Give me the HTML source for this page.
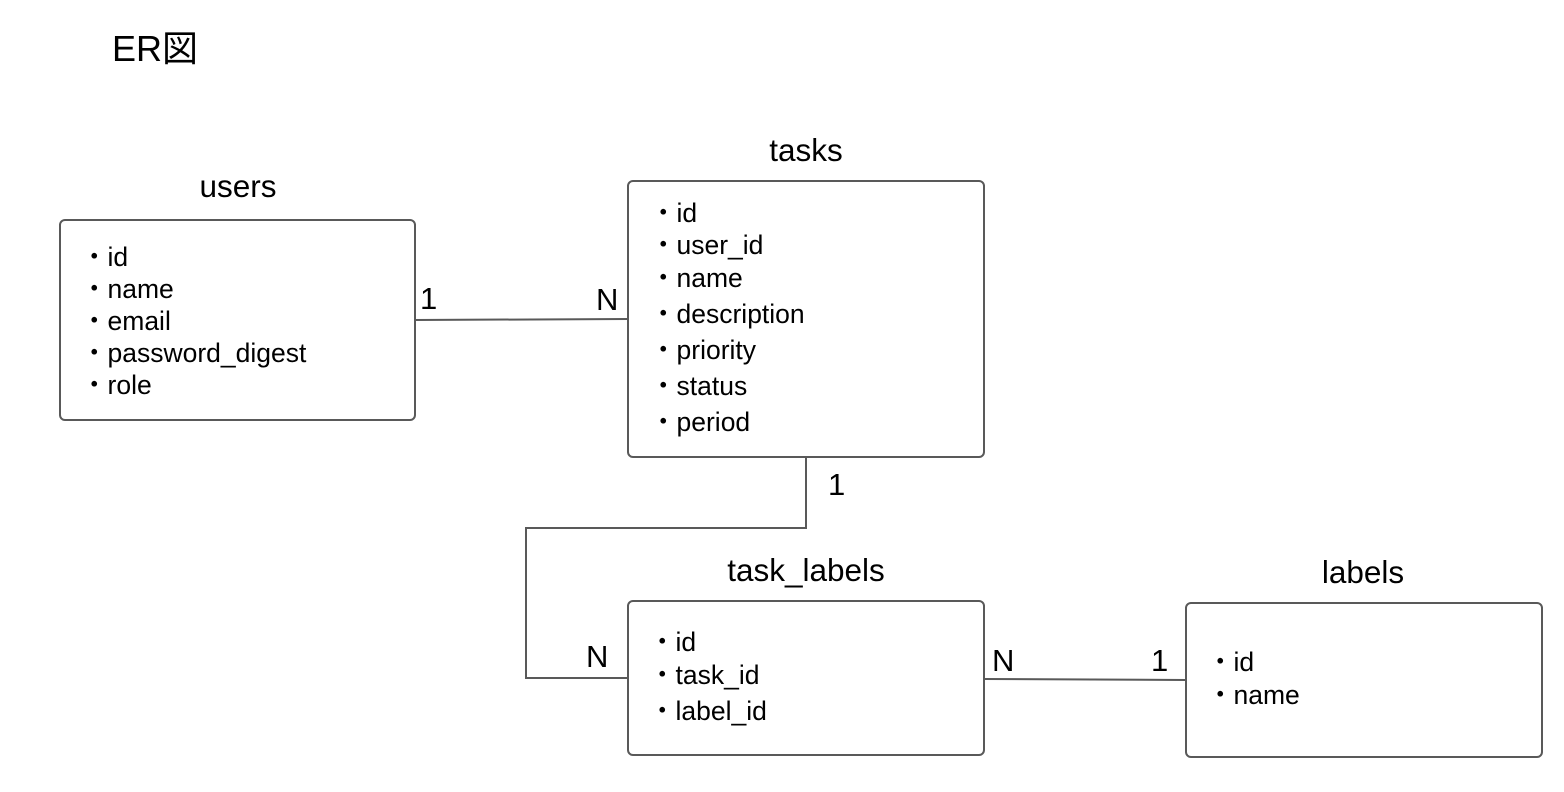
<!DOCTYPE html>
<html><head><meta charset="utf-8"><style>
html,body{margin:0;padding:0;background:#fff;}
svg{display:block;}
text{font-family:"Liberation Sans","Noto Sans CJK JP",sans-serif;fill:#000;}
.t{font-size:31.5px;}
.b{font-size:26.5px;}
.box{fill:#fff;stroke:#595959;stroke-width:2;}
.ln{fill:none;stroke:#595959;stroke-width:2;}
</style></head><body>
<svg width="1564" height="792" viewBox="0 0 1564 792">
<text x="112" y="61" style="font-size:36px">ER図</text>

<text class="t" x="238" y="197" text-anchor="middle">users</text>
<rect class="box" x="60" y="220" width="355" height="200" rx="5"/>
<g class="b">
<text x="81" y="266">・id</text>
<text x="81" y="298">・name</text>
<text x="81" y="330">・email</text>
<text x="81" y="362">・password_digest</text>
<text x="81" y="394">・role</text>
</g>

<text class="t" x="806" y="161" text-anchor="middle">tasks</text>
<rect class="box" x="628" y="181" width="356" height="276" rx="5"/>
<g class="b">
<text x="650" y="222">・id</text>
<text x="650" y="254">・user_id</text>
<text x="650" y="287">・name</text>
<text x="650" y="323">・description</text>
<text x="650" y="359">・priority</text>
<text x="650" y="395">・status</text>
<text x="650" y="431">・period</text>
</g>

<text class="t" x="806" y="581" text-anchor="middle">task_labels</text>
<rect class="box" x="628" y="601" width="356" height="154" rx="5"/>
<g class="b">
<text x="649" y="651">・id</text>
<text x="649" y="684">・task_id</text>
<text x="649" y="720">・label_id</text>
</g>

<text class="t" x="1363" y="583" text-anchor="middle">labels</text>
<rect class="box" x="1186" y="603" width="356" height="154" rx="5"/>
<g class="b">
<text x="1207" y="671">・id</text>
<text x="1207" y="704">・name</text>
</g>

<path class="ln" d="M415 320 L628 319"/>
<path class="ln" d="M806 457 L806 528 L526 528 L526 678 L628 678"/>
<path class="ln" d="M984 679 L1186 680"/>

<g style="font-size:31px">
<text x="420" y="309">1</text>
<text x="596" y="310">N</text>
<text x="828" y="495">1</text>
<text x="586" y="667">N</text>
<text x="992" y="671">N</text>
<text x="1151" y="671">1</text>
</g>
</svg>
</body></html>
